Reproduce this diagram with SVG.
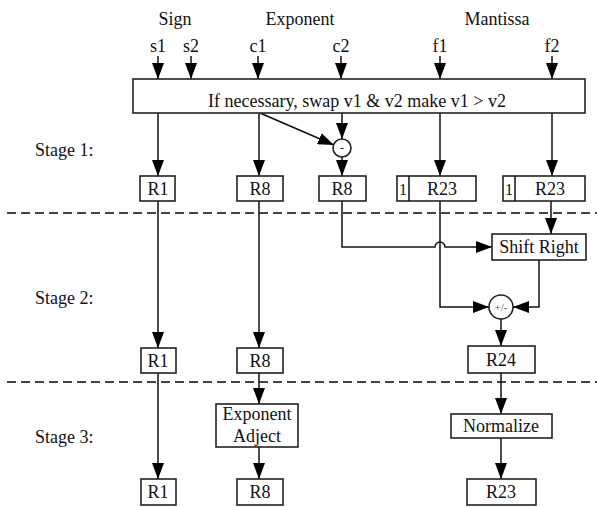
<svg xmlns="http://www.w3.org/2000/svg" width="597" height="507" viewBox="0 0 597 507" font-family="'Liberation Serif', 'DejaVu Serif', serif">
<style>
text{font-family:'Liberation Serif','DejaVu Serif','Times New Roman',serif;font-size:18px;fill:#111;text-anchor:middle}
.lbl{text-anchor:start}
.box{fill:#fff;stroke:#222;stroke-width:1.6}
.ln{fill:none;stroke:#111;stroke-width:1.5}
.arr{marker-end:url(#ah)}
.dash{stroke:#444;stroke-width:2;stroke-dasharray:9 5;fill:none}
</style>
<defs>
<marker id="ah" markerUnits="userSpaceOnUse" markerWidth="16" markerHeight="12" refX="16" refY="6" orient="auto">
<path d="M0,0 L16,6 L0,12 z" fill="#000"/>
</marker>
</defs>
<rect width="597" height="507" fill="#fff"/>
<g id="headers">
<text x="175" y="25">Sign</text>
<text x="300" y="25">Exponent</text>
<text x="497" y="25">Mantissa</text>
<text x="158" y="52">s1</text>
<text x="191" y="52">s2</text>
<text x="258" y="52">c1</text>
<text x="341" y="52">c2</text>
<text x="440" y="52">f1</text>
<text x="552" y="52">f2</text>
</g>
<g id="stages">
<text class="lbl" x="35" y="156">Stage 1:</text>
<text class="lbl" x="35" y="304">Stage 2:</text>
<text class="lbl" x="35" y="443">Stage 3:</text>
<line class="dash" x1="7" y1="213" x2="597" y2="213"/>
<line class="dash" x1="7" y1="382" x2="597" y2="382"/>
</g>
<g id="connectors">
<line class="ln arr" x1="158" y1="56" x2="158" y2="79"/>
<line class="ln arr" x1="191" y1="56" x2="191" y2="79"/>
<line class="ln arr" x1="258" y1="56" x2="258" y2="79"/>
<line class="ln arr" x1="341" y1="56" x2="341" y2="79"/>
<line class="ln arr" x1="440" y1="56" x2="440" y2="79"/>
<line class="ln arr" x1="552" y1="56" x2="552" y2="79"/>
<line class="ln arr" x1="158" y1="113" x2="158" y2="176"/>
<line class="ln arr" x1="259" y1="113" x2="259" y2="176"/>
<line class="ln arr" x1="260" y1="113" x2="334" y2="145"/>
<line class="ln arr" x1="342" y1="113" x2="342" y2="139"/>
<line class="ln arr" x1="342" y1="157" x2="342" y2="176"/>
<line class="ln arr" x1="440" y1="113" x2="440" y2="176"/>
<line class="ln arr" x1="552" y1="113" x2="552" y2="176"/>
<line class="ln arr" x1="158" y1="201" x2="158" y2="348"/>
<line class="ln arr" x1="259" y1="201" x2="259" y2="348"/>
<path class="ln arr" d="M342,201 V247 H435 A5,5 0 0 1 445,247 H492"/>
<path class="ln arr" d="M440,201 V307 H489"/>
<line class="ln arr" x1="551" y1="201" x2="551" y2="234"/>
<path class="ln arr" d="M539,260 V307 H513"/>
<line class="ln arr" x1="501" y1="319" x2="501" y2="346"/>
<line class="ln arr" x1="158" y1="373" x2="158" y2="479"/>
<line class="ln arr" x1="259" y1="373" x2="259" y2="404"/>
<line class="ln arr" x1="259" y1="447" x2="259" y2="479"/>
<line class="ln arr" x1="501" y1="373" x2="501" y2="414"/>
<line class="ln arr" x1="501" y1="438" x2="501" y2="479"/>
</g>
<g id="swap">
<rect class="box" x="133" y="79" width="452" height="34"/>
<text x="357" y="107">If necessary, swap v1 &amp; v2 make v1 &gt; v2</text>
</g>
<g id="sub">
<circle class="box" cx="342" cy="148" r="9"/>
<text x="342" y="152" style="font-size:12px">-</text>
</g>
<g id="s1-r1"><rect class="box" x="140" y="176" width="35" height="25"/><text x="158" y="195">R1</text></g>
<g id="s1-r8a"><rect class="box" x="237" y="176" width="46" height="25"/><text x="260" y="195">R8</text></g>
<g id="s1-r8b"><rect class="box" x="319" y="176" width="47" height="25"/><text x="342" y="195">R8</text></g>
<g id="s1-r23a"><rect class="box" x="397" y="176" width="79" height="25"/><line class="ln" x1="409" y1="176" x2="409" y2="201"/><text x="403" y="195" style="font-size:16px">1</text><text x="442" y="195">R23</text></g>
<g id="s1-r23b"><rect class="box" x="503" y="176" width="82" height="25"/><line class="ln" x1="515" y1="176" x2="515" y2="201"/><text x="509" y="195" style="font-size:16px">1</text><text x="550" y="195">R23</text></g>
<g id="shift"><rect class="box" x="492" y="234" width="94" height="26"/><text x="539" y="253">Shift Right</text></g>
<g id="addsub"><circle class="box" cx="501" cy="307" r="12"/><text x="501" y="311" style="font-size:11px;fill:#555">+/-</text></g>
<g id="s2-r1"><rect class="box" x="141" y="348" width="35" height="25"/><text x="158" y="367">R1</text></g>
<g id="s2-r8"><rect class="box" x="237" y="348" width="46" height="25"/><text x="260" y="367">R8</text></g>
<g id="s2-r24"><rect class="box" x="468" y="346" width="67" height="27"/><text x="501" y="366">R24</text></g>
<g id="expadj"><rect class="box" x="216" y="404" width="82" height="43"/><text x="257" y="420">Exponent</text><text x="257" y="442">Adject</text></g>
<g id="norm"><rect class="box" x="451" y="414" width="101" height="24"/><text x="501" y="432">Normalize</text></g>
<g id="s3-r1"><rect class="box" x="141" y="479" width="35" height="26"/><text x="158" y="498">R1</text></g>
<g id="s3-r8"><rect class="box" x="237" y="479" width="46" height="26"/><text x="260" y="498">R8</text></g>
<g id="s3-r23"><rect class="box" x="467" y="479" width="69" height="26"/><text x="501" y="498">R23</text></g>
</svg>
